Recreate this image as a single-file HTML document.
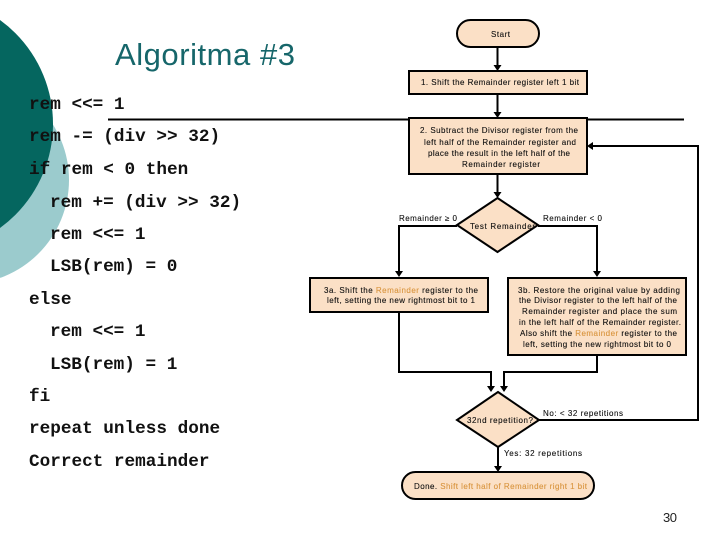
<!DOCTYPE html>
<html>
<head>
<meta charset="utf-8">
<style>
html,body{margin:0;padding:0;background:#fff;width:720px;height:540px;overflow:hidden}
svg{display:block}
.m{font-family:"Liberation Mono",monospace;font-size:17.7px;font-weight:bold;fill:#111}
.s{font-family:"Liberation Sans",sans-serif;font-size:8px;fill:#111;stroke:#111;stroke-width:.12}
.o{fill:#d9953f;stroke:#d9953f}
.b{fill:#fbe0c6;stroke:#000;stroke-width:2}
.l{fill:none;stroke:#000;stroke-width:2}
.a{fill:#000}
</style>
</head>
<body>
<svg width="720" height="540" viewBox="0 0 720 540" xmlns="http://www.w3.org/2000/svg">
<rect width="720" height="540" fill="#fff"/>
<circle cx="-35" cy="180" r="104" fill="#9bcbcd"/>
<circle cx="-75.5" cy="124" r="128.5" fill="#05665f"/>

<text x="115" y="65" font-family="Liberation Sans, sans-serif" font-size="31" fill="#16666a" textLength="180">Algoritma #3</text>

<text class="m" x="29" y="109">rem &lt;&lt;= 1</text>
<text class="m" x="29" y="141">rem -= (div &gt;&gt; 32)</text>
<text class="m" x="29" y="174">if rem &lt; 0 then</text>
<text class="m" x="50" y="207">rem += (div &gt;&gt; 32)</text>
<text class="m" x="50" y="239">rem &lt;&lt;= 1</text>
<text class="m" x="50" y="271">LSB(rem) = 0</text>
<text class="m" x="29" y="304">else</text>
<text class="m" x="50" y="336">rem &lt;&lt;= 1</text>
<text class="m" x="50" y="369">LSB(rem) = 1</text>
<text class="m" x="29" y="401">fi</text>
<text class="m" x="29" y="433">repeat unless done</text>
<text class="m" x="29" y="466">Correct remainder</text>

<!-- header rule -->
<line x1="108" y1="119.5" x2="684" y2="119.5" stroke="#000" stroke-width="2"/>

<!-- connectors -->
<path class="l" d="M497.5 47V66M497.5 94V113M497.5 174V193"/>
<path class="l" d="M457 226H399V272M538 226H597V272"/>
<path class="l" d="M399 312V372H491V387M597 355V372H504V387"/>
<path class="l" d="M498 447V467M539 420H698V146H592"/>
<path class="a" d="M493.5 65h8l-4 6zM493.5 112h8l-4 6zM493.5 192h8l-4 6zM395 271h8l-4 6zM593 271h8l-4 6zM487 386h8l-4 6zM500 386h8l-4 6zM494 466h8l-4 6zM593 142v8l-6-4z"/>

<!-- shapes -->
<rect class="b" x="457" y="20" width="82" height="27" rx="13.5"/>
<rect class="b" x="409" y="71" width="178" height="23"/>
<rect class="b" x="409" y="118" width="178" height="56"/>
<polygon class="b" points="497.5,198 538,225 497.5,252 457,225"/>
<rect class="b" x="310" y="278" width="178" height="34"/>
<rect class="b" x="508" y="278" width="178" height="77"/>
<polygon class="b" points="498,392 539,420 498,447 457,420"/>
<rect class="b" x="402" y="472" width="192" height="27" rx="13.5"/>

<!-- labels -->
<text class="s" x="491" y="37" textLength="19">Start</text>
<text class="s" x="421" y="85" textLength="158">1. Shift the Remainder register left 1 bit</text>

<text class="s" x="420" y="133" textLength="158">2. Subtract the Divisor register from the</text>
<text class="s" x="424" y="145" textLength="152">left half of the Remainder register and</text>
<text class="s" x="428" y="156" textLength="142">place the result in the left half of the</text>
<text class="s" x="462" y="167" textLength="78">Remainder register</text>

<text class="s" x="399" y="221" textLength="58">Remainder ≥ 0</text>
<text class="s" x="543" y="221" textLength="59">Remainder &lt; 0</text>
<text class="s" x="470" y="229" textLength="65">Test Remainder</text>

<text class="s" x="324" y="293" textLength="154">3a. Shift the <tspan class="o">Remainder</tspan> register to the</text>
<text class="s" x="327" y="303" textLength="148">left, setting the new rightmost bit to 1</text>

<text class="s" x="518" y="293" textLength="162">3b. Restore the original value by adding</text>
<text class="s" x="519" y="303" textLength="158">the Divisor register to the left half of the</text>
<text class="s" x="522" y="314" textLength="155">Remainder register and place the sum</text>
<text class="s" x="519" y="325" textLength="162">in the left half of the Remainder register.</text>
<text class="s" x="520" y="336" textLength="157">Also shift the <tspan class="o">Remainder</tspan> register to the</text>
<text class="s" x="523" y="347" textLength="148">left, setting the new rightmost bit to 0</text>

<text class="s" x="467" y="423" textLength="66">32nd repetition?</text>
<text class="s" x="543" y="416" textLength="80">No: &lt; 32 repetitions</text>
<text class="s" x="504" y="456" textLength="78">Yes: 32 repetitions</text>
<text class="s" x="414" y="489" textLength="173">Done. <tspan class="o">Shift left half of Remainder right 1 bit</tspan></text>

<text x="663" y="522" font-family="Liberation Sans, sans-serif" font-size="13" fill="#222" textLength="14">30</text>
</svg>
</body>
</html>
